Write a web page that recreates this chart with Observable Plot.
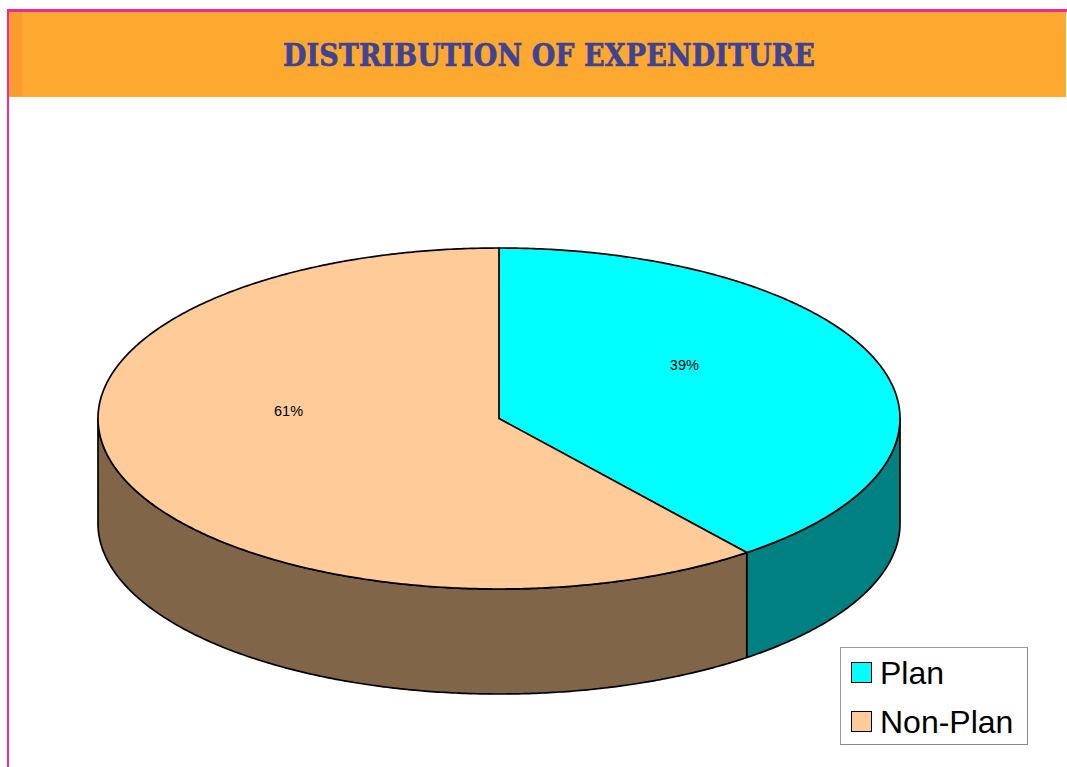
<!DOCTYPE html>
<html>
<head>
<meta charset="utf-8">
<script src="https://cdn.jsdelivr.net/npm/d3@7"></script>
<script src="https://cdn.jsdelivr.net/npm/@observablehq/plot@0.6"></script>
<style>
html,body{margin:0;padding:0;background:#fff;overflow:hidden}
#page{position:relative;width:1067px;height:767px;overflow:hidden}
#page svg{position:absolute;left:0;top:0}
.rule-top{position:absolute;left:7px;right:0;top:9px;height:3px;background:#EE2A96}
.rule-left{position:absolute;left:7px;top:9px;width:2px;bottom:0;background:#EE2A96}
.band{position:absolute;left:9px;right:1px;top:12px;height:85px;background:#FDA92F}
.strip{position:absolute;left:9px;top:12px;width:13px;height:84px;background:#FA9B30}
h1{position:absolute;left:0;top:38px;width:1098px;margin:0;text-align:center;font:bold 27px/36px "DejaVu Serif",serif;color:#3F4396;white-space:nowrap;letter-spacing:0.1px;transform:scaleY(1.14);-webkit-text-stroke:0.6px #3F4396}
.legend{position:absolute;left:840px;top:647px;width:186px;height:96px;border:1px solid #999;border-right-color:#888;border-bottom-color:#888;background:#fff;font:32px/40px "Liberation Sans",Arial,sans-serif;color:#000}
.legend div{position:absolute;left:39px;white-space:nowrap}
.legend i{position:absolute;left:-29.5px;top:9px;width:19px;height:19px;border:1.5px solid #000}
</style>
</head>
<body>
<div id="page">
  <div class="rule-top"></div><div class="rule-left"></div>
  <div class="band"></div><div class="strip"></div>
  <h1 id="title"></h1>
  <div id="chart"></div>
  <div class="legend" id="legend"></div>
</div>
<script>
const titleText = "DISTRIBUTION OF EXPENDITURE";
const categories = ["Plan", "Non-Plan"];
const shares = [39.4, 60.6];
const shareLabels = ["39%", "61%"];
const topColors = ["#00FFFF", "#FFCC99"];
const wallColors = ["#008080", "#806549"];

// Pie space: unit ellipse, y up; depth is the height of the wall in the same units.
const depth = 105 / 170.5;
const labelAnchors = [[0.461, 0.312], [-0.526, 0.047]];

const total = d3.sum(shares);
const startAngle = shares.map((_, i) => d3.sum(shares.slice(0, i)) / total * 360);
const endAngle = shares.map((s, i) => startAngle[i] + s / total * 360);

const rad = a => a * Math.PI / 180;
function arc(a0, a1) {
  const n = Math.max(2, Math.ceil((a1 - a0) * 2));
  return d3.range(n + 1).map(i => {
    const a = a0 + (a1 - a0) * i / n;
    return {x: Math.sin(rad(a)), y: Math.cos(rad(a))};
  });
}

const wedges = categories.map((c, i) => arc(startAngle[i], endAngle[i]).map(p => ({...p, c})));
// Walls are visible only on the front half of the ellipse (90° to 270°).
const walls = categories.map((c, i) => {
  const a0 = Math.max(startAngle[i], 90), a1 = Math.min(endAngle[i], 270);
  return arc(a0, a1).map(p => ({...p, c}));
});

const pxX = 401, pxY = 170.5, cx = 499, cy = 418.5;
const plot = Plot.plot({
  width: 1067, height: 767,
  margin: 0,
  style: {background: "transparent", overflow: "visible"},
  x: {domain: [-cx / pxX, (1067 - cx) / pxX], range: [0, 1067], axis: null},
  y: {domain: [cy / pxY, (cy - 767) / pxY], range: [0, 767], axis: null},
  marks: [
    ...walls.map((w, i) => Plot.areaY(w, {
      x: "x", y1: "y", y2: d => d.y - depth,
      fill: wallColors[i], stroke: "#000", strokeWidth: 1.7, strokeLinejoin: "round"
    })),
    ...wedges.map((w, i) => Plot.area(w, {
      x1: () => 0, y1: () => 0, x2: "x", y2: "y",
      fill: topColors[i], stroke: "#000", strokeWidth: 1.7, strokeLinejoin: "round"
    })),
    Plot.text(categories.map((c, i) => ({c, t: shareLabels[i], x: labelAnchors[i][0], y: labelAnchors[i][1]})), {
      x: "x", y: "y", text: "t", fontSize: 14.5, fontFamily: "Liberation Sans, Arial, sans-serif", fill: "#000"
    })
  ]
});
document.getElementById("chart").appendChild(plot);

document.getElementById("title").textContent = titleText;
const legend = document.getElementById("legend");
categories.forEach((c, i) => {
  const row = document.createElement("div");
  row.style.top = (5 + i * 49) + "px";
  row.textContent = c;
  const sw = document.createElement("i");
  sw.style.background = topColors[i];
  row.appendChild(sw);
  legend.appendChild(row);
});
</script>
</body>
</html>
